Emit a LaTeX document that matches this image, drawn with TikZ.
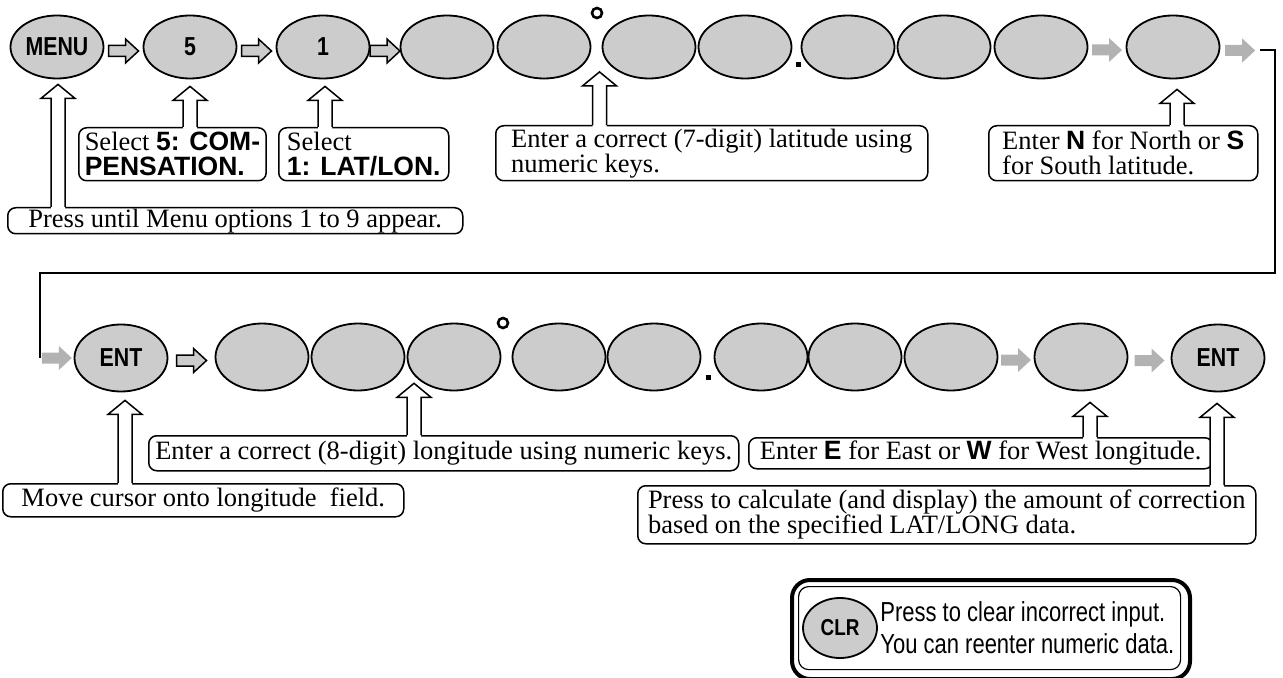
\documentclass[tikz,border=0pt]{standalone}
\usepackage{fontspec}
\setmainfont{Liberation Serif}
\setsansfont{Liberation Sans}
\newfontfamily\keyfont[FakeStretch=0.82]{Liberation Sans}
\newfontfamily\narrowfont[FakeStretch=0.8]{Liberation Sans}
\usetikzlibrary{shapes.geometric,calc,positioning}
\definecolor{keygray}{gray}{0.8}
\definecolor{shadegray}{gray}{0.7}
\newcommand{\kb}[1]{{\sffamily\bfseries #1}}
\newcommand{\callfont}{\fontsize{13.25}{12.5}\selectfont\lineskiplimit=-20pt\relax}
% fat arrow between two keys, centred on #2
\newcommand{\blockarrow}[2]{%
  \path[#1] (#2) +(-15,-5.5) -- +(2,-5.5) -- +(2,-12) -- +(15,0) -- +(2,12)
    -- +(2,5.5) -- +(-15,5.5) -- cycle;}
% hollow arrow from callout box #2 up to the point #1
\newcommand{\upcallout}[2]{%
  \coordinate (tp) at (#1);
  \coordinate (ft) at (tp |- #2.north);
  \fill[white] (tp) -- ++(17,14) -- ++(-10,0) -- ($(ft)+(7,2)$)
    -- ($(ft)+(-7,2)$) -- ($(tp)+(-7,14)$) -- ++(-10,0) -- cycle;
  \draw[callarrow] ($(ft)+(7,0)$) -- ($(tp)+(7,14)$) -- ++(10,0) -- (tp)
    -- ++(-17,14) -- ++(10,0) -- ($(ft)+(-7,0)$);}

\begin{document}
\begin{tikzpicture}[x=0.5pt, y=-0.5pt,
    key/.style={ellipse, draw, line width=0.9pt, fill=keygray,
      minimum width=46.5pt, minimum height=31.5pt, inner sep=0pt,
      font=\keyfont\bfseries\fontsize{13}{13}\selectfont},
    keyarrow/.style={draw, line width=0.75pt, fill=keygray},
    shadearrow/.style={fill=shadegray},
    callbox/.style={draw, line width=0.75pt, rounded corners=4pt,
      anchor=north west, align=left, inner xsep=3pt, inner ysep=0pt,
      font=\callfont},
    callarrow/.style={line width=0.75pt},
    wire/.style={line width=0.9pt},
    degmark/.style={circle, draw, line width=1.3pt, minimum size=5pt, inner sep=0pt},
    pointmark/.style={fill=black, minimum size=2.5pt, inner sep=0pt}]
  \useasboundingbox (0,0) rectangle (1283,678);

  % latitude row
  \node[key] (kmenu) at (57,47) {MENU};
  \node[key] (k5) at (190,47) {5};
  \node[key] (k1) at (323,47) {1};
  \node[key] (la1) at (447,47) {};
  \node[key] (la2) at (544,47) {};
  \node[key] (la3) at (649,47) {};
  \node[key] (la4) at (745,47) {};
  \node[key] (la5) at (848,47) {};
  \node[key] (la6) at (944,47) {};
  \node[key] (la7) at (1041,47) {};
  \node[key] (kns) at (1173,47) {};
  \node[degmark] (deg1) at (597,13) {};
  \node[pointmark] (pt1) at (798,65) {};

  \blockarrow{keyarrow}{$(kmenu.east)!0.5!(k5.west)+(0,4)$}
  \blockarrow{keyarrow}{$(k5.east)!0.5!(k1.west)+(0,4)$}
  \blockarrow{keyarrow}{$(k1.east)!0.5!(la1.west)+(0,4)$}
  \blockarrow{shadearrow}{$(la7.east)!0.5!(kns.west)+(0,3)$}

  % wrap to the second row
  \coordinate (wrapa) at (1260,50);
  \coordinate (wrapb) at (1275,273);
  \coordinate (wrapc) at (40,358);
  \blockarrow{shadearrow}{$(kns.east)!0.5!(wrapa)+(0,2)$}
  \draw[wire] (wrapa) -| (wrapb) -| (wrapc);

  % longitude row
  \begin{scope}[key/.append style={minimum height=33.5pt}]
    \node[key] (kent1) at (121,358) {ENT};
    \node[key] (lo1) at (262,357) {};
    \node[key] (lo2) at (358,357) {};
    \node[key] (lo3) at (454,357) {};
    \node[key] (lo4) at (559,357) {};
    \node[key] (lo5) at (654,357) {};
    \node[key] (lo6) at (761,357) {};
    \node[key] (lo7) at (855,357) {};
    \node[key] (lo8) at (951,357) {};
    \node[key] (kew) at (1081,357) {};
    \node[key] (kent2) at (1218,358) {ENT};
  \end{scope}
  \node[degmark] (deg2) at (503,323) {};
  \node[pointmark] (pt2) at (708,377) {};

  \blockarrow{shadearrow}{$(wrapc)!0.5!(kent1.west)$}
  \blockarrow{keyarrow}{$(kent1.east)!0.5!(lo1.west)+(0,3)$}
  \blockarrow{shadearrow}{$(lo8.east)!0.5!(kew.west)+(0,3)$}
  \blockarrow{shadearrow}{$(kew.east)!0.5!(kent2.west)+(0,3)$}

  % callout boxes
  \node[callbox, minimum width=227.5pt, minimum height=13pt] (bmenu) at (7,207)
    {Press until Menu options 1 to 9 appear.};
  \node[callbox, minimum width=92.5pt, minimum height=26.5pt] (bsel5) at (78,127)
    {Select \kb{5: COM-}\\\kb{PENSATION.}};
  \node[callbox, minimum width=85pt, minimum height=26.5pt] (bsel1) at (278,127)
    {Select\\\kb{1: LAT/LON.}};
  \node[callbox, minimum width=216pt, minimum height=27.5pt] (blat) at (495,125)
    {Enter a correct (7-digit) latitude using\\numeric keys.};
  \node[callbox, minimum width=134.5pt, minimum height=27.5pt] (bns) at (988,125)
    {Enter \kb{N} for North or \kb{S}\\for South latitude.};
  \node[callbox, minimum width=200.5pt, minimum height=16.5pt] (bcur) at (2,483)
    {Move cursor onto longitude\ \ field.};
  \node[callbox, minimum width=295pt, minimum height=17.5pt] (blon) at (148,435)
    {Enter a correct (8-digit) longitude using numeric keys.};
  \node[callbox, minimum width=232pt, minimum height=15.5pt] (bew) at (748,437)
    {Enter \kb{E} for East or \kb{W} for West longitude.};
  \node[callbox, minimum width=309pt, minimum height=29pt] (bcalc) at (637,485)
    {Press to calculate (and display) the amount of correction\\based on the specified LAT/LONG data.};

  % callout arrows
  \upcallout{$(kmenu.south)+(1,5)$}{bmenu}
  \upcallout{$(k5.south)+(0,7)$}{bsel5}
  \upcallout{$(k1.south)+(2,7)$}{bsel1}
  \upcallout{$(la2.south east)!0.5!(la3.south west)+(3,2)$}{blat}
  \upcallout{$(kns.south)+(4,10)$}{bns}
  \upcallout{$(kent1.south)+(4,8)$}{bcur}
  \upcallout{$(lo2.south east)!0.5!(lo3.south west)+(8,2)$}{blon}
  \upcallout{$(kew.south)+(9,11)$}{bew}
  \upcallout{$(kent2.south)+(-1,11)$}{bcalc}

  % clear key note
  \node[draw, line width=2pt, rounded corners=9pt, anchor=north west,
    minimum width=199pt, minimum height=49.5pt] (clrout) at (790,578) {};
  \node[draw, line width=0.6pt, rounded corners=5pt, anchor=north west,
    minimum width=191pt, minimum height=41.5pt] (clrin) at (798,586) {};
  \node[key, minimum width=37pt, minimum height=30pt,
    font=\keyfont\bfseries\fontsize{11.5}{11.5}\selectfont] (kclr) at (840,628) {CLR};
  \node[anchor=west, align=left, inner sep=0pt,
    font=\narrowfont\fontsize{13.75}{16}\selectfont] (tclr) at (880,628)
    {Press to clear incorrect input.\\You can reenter numeric data.};
\end{tikzpicture}
\end{document}
